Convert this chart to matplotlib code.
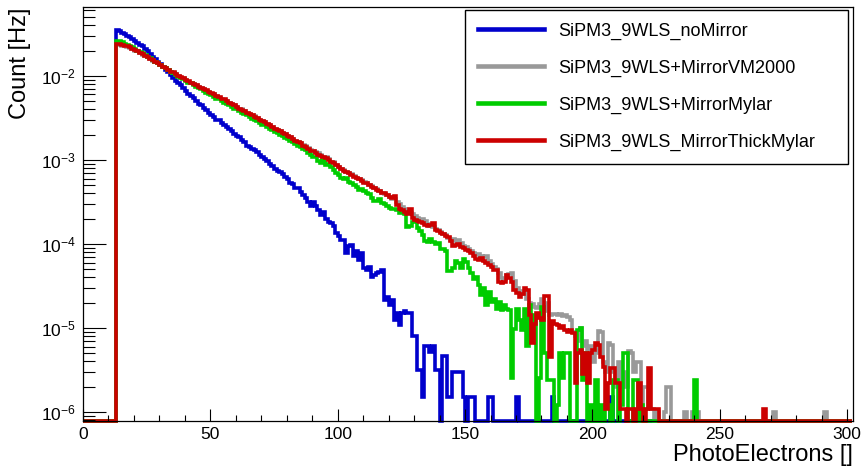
import numpy as np
import matplotlib
matplotlib.use("Agg")
import matplotlib.pyplot as plt
from matplotlib.ticker import MultipleLocator, LogLocator, NullFormatter, LogFormatterSciNotation
from matplotlib.lines import Line2D

plt.rcParams['font.family'] = ['Liberation Sans', 'DejaVu Sans']
plt.rcParams['mathtext.fontset'] = 'custom'
plt.rcParams['mathtext.rm'] = 'Liberation Sans'
plt.rcParams['mathtext.it'] = 'Liberation Sans:italic'
plt.rcParams['mathtext.default'] = 'regular'

# ---------------- data ----------------
# histogram: 1 PE wide bins from 0 to 302; values are log10(rate [Hz]),
# listed from bin 13 on; None = empty bin
n_bins = 302
first_bin = 13
x_label = "PhotoElectrons []"
y_label = "Count [Hz]"
series_names = ["SiPM3_9WLS_noMirror", "SiPM3_9WLS+MirrorVM2000",
                "SiPM3_9WLS+MirrorMylar", "SiPM3_9WLS_MirrorThickMylar"]
series_colors = ["#0000cc", "#999999", "#00cc00", "#cc0000"]

blue_log10 = [
    -1.45, -1.47, -1.49, -1.50, -1.52, -1.54, -1.56, -1.58, -1.61, -1.63,   # 13
    -1.65, -1.68, -1.71, -1.74, -1.77, -1.80, -1.83, -1.86, -1.90, -1.93,   # 23
    -1.96, -1.99, -2.02, -2.06, -2.09, -2.11, -2.15, -2.18, -2.21, -2.24,   # 33
    -2.26, -2.30, -2.33, -2.35, -2.38, -2.41, -2.44, -2.47, -2.49, -2.52,   # 43
    -2.53, -2.56, -2.59, -2.61, -2.63, -2.66, -2.69, -2.71, -2.73, -2.76,   # 53
    -2.79, -2.83, -2.85, -2.87, -2.88, -2.91, -2.94, -2.97, -2.99, -3.01,   # 63
    -3.05, -3.07, -3.11, -3.13, -3.15, -3.17, -3.20, -3.23, -3.27, -3.29,   # 73
    -3.33, -3.34, -3.38, -3.42, -3.45, -3.50, -3.55, -3.50, -3.55, -3.60,   # 83
    -3.66, -3.62, -3.70, -3.74, -3.75, -3.79, -3.87, -3.91, -3.95, -3.95,   # 93
    -4.11, -4.03, -4.01, -4.15, -4.09, -4.19, -4.11, -4.29, -4.31, -4.27,   # 103
    -4.39, -4.37, -4.35, -4.33, -4.31, -4.67, -4.63, -4.73, -4.67, -4.90,   # 113
    -4.82, -4.96, -4.82, -4.80, -4.82, -4.82, -5.10, -5.10, -5.50, -5.50,   # 123
    -5.82, -5.22, -5.22, -5.29, -5.22, -5.50, -5.50, None, -5.34, -5.34,    # 133
    -5.82, -5.82, -5.52, -5.52, -5.52, -5.52, -5.82, None, -5.82, -5.82,    # 143
    -5.82, None, None, None, None, None, -5.82, -5.82, None, None,          # 153
    None, None, None, None, None, None, None, -5.82, None, None,            # 163
    None, None, None, None, None, None, None, None, None, None,             # 173
    None, -5.82, None, None, None, None, None, None, None, None,            # 183
    None, None, None, None, None, None, None, None, None, None,             # 193
    None, None, None, None, -5.82,                                          # 203
]

gray_log10 = [
    -1.63, -1.63, -1.64, -1.65, -1.66, -1.67, -1.68, -1.70, -1.71, -1.73,   # 13
    -1.75, -1.76, -1.78, -1.80, -1.82, -1.84, -1.85, -1.87, -1.89, -1.91,   # 23
    -1.93, -1.95, -1.97, -1.98, -2.00, -2.02, -2.03, -2.05, -2.07, -2.08,   # 33
    -2.10, -2.11, -2.13, -2.15, -2.16, -2.18, -2.19, -2.21, -2.22, -2.24,   # 43
    -2.26, -2.27, -2.29, -2.30, -2.32, -2.34, -2.35, -2.37, -2.39, -2.40,   # 53
    -2.42, -2.44, -2.45, -2.47, -2.48, -2.50, -2.52, -2.54, -2.55, -2.57,   # 63
    -2.59, -2.61, -2.63, -2.64, -2.66, -2.68, -2.69, -2.71, -2.73, -2.75,   # 73
    -2.77, -2.79, -2.80, -2.82, -2.84, -2.86, -2.88, -2.89, -2.91, -2.92,   # 83
    -2.94, -2.96, -2.97, -2.99, -3.02, -3.03, -3.06, -3.08, -3.11, -3.12,   # 93
    -3.14, -3.16, -3.17, -3.19, -3.21, -3.23, -3.24, -3.26, -3.28, -3.30,   # 103
    -3.31, -3.33, -3.35, -3.37, -3.39, -3.41, -3.42, -3.44, -3.46, -3.47,   # 113
    -3.50, -3.53, -3.56, -3.58, -3.61, -3.63, -3.65, -3.67, -3.69, -3.72,   # 123
    -3.70, -3.73, -3.76, -3.79, -3.80, -3.82, -3.84, -3.86, -3.88, -3.90,   # 133
    -3.93, -3.95, -3.94, -3.97, -3.95, -3.99, -4.02, -4.04, -4.06, -4.09,   # 143
    -4.11, -4.13, -4.12, -4.14, -4.16, -4.15, -4.20, -4.24, -4.27, -4.30,   # 153
    -4.35, -4.40, -4.42, -4.37, -4.36, -4.35, -4.44, -4.52, -4.56, -4.60,   # 163
    -4.58, -4.66, -4.70, -4.72, -4.75, -4.76, -4.72, -4.66, -4.80, -4.70,   # 173
    -4.85, -4.84, -4.83, -4.85, -4.83, -4.86, -4.85, -4.87, -4.90, -5.05,   # 183
    -5.10, -5.15, -5.00, -5.22, -5.15, -5.30, -5.22, -5.40, -5.30, -5.04,   # 193
    -5.05, -5.40, -5.52, -5.18, -5.20, -5.52, -5.70, -5.40, -5.70, -5.52,   # 203
    -5.70, -5.27, -5.30, -5.52, -5.40, -5.40, -6.00, -5.70, -5.70, -5.96,   # 213
    -5.96, None, -6.00, None, None, -6.00, -5.70, -5.70, None, None,        # 223
    None, None, None, -6.00, None, None, -6.00, -6.00, -6.00, None,         # 233
    None, None, None, None, None, None, None, None, None, None,             # 243
    None, None, None, None, None, None, None, None, None, None,             # 253
    None, None, None, None, None, None, None, None, -6.00, None,            # 263
    None, None, None, None, None, None, None, None, None, None,             # 273
    None, None, None, None, None, None, None, None, -6.00,                  # 283
]

green_log10 = [
    -1.58, -1.59, -1.60, -1.62, -1.63, -1.65, -1.66, -1.68, -1.70, -1.72,   # 13
    -1.73, -1.75, -1.77, -1.79, -1.81, -1.83, -1.85, -1.87, -1.89, -1.91,   # 23
    -1.93, -1.95, -1.97, -1.99, -2.01, -2.02, -2.04, -2.06, -2.08, -2.09,   # 33
    -2.11, -2.13, -2.15, -2.16, -2.18, -2.20, -2.21, -2.23, -2.25, -2.27,   # 43
    -2.28, -2.30, -2.32, -2.34, -2.35, -2.37, -2.39, -2.40, -2.42, -2.44,   # 53
    -2.45, -2.47, -2.49, -2.51, -2.52, -2.54, -2.56, -2.58, -2.59, -2.61,   # 63
    -2.63, -2.65, -2.67, -2.68, -2.70, -2.72, -2.74, -2.75, -2.77, -2.79,   # 73
    -2.81, -2.83, -2.85, -2.87, -2.88, -2.92, -2.94, -2.96, -2.97, -3.01,   # 83
    -3.04, -3.00, -3.06, -3.05, -3.09, -3.12, -3.16, -3.18, -3.21, -3.23,   # 93
    -3.22, -3.26, -3.28, -3.30, -3.32, -3.36, -3.35, -3.37, -3.40, -3.41,   # 103
    -3.45, -3.49, -3.49, -3.47, -3.51, -3.53, -3.55, -3.57, -3.58, -3.59,   # 113
    -3.60, -3.63, -3.63, -3.64, -3.80, -3.79, -3.74, -3.73, -3.81, -3.85,   # 123
    -3.90, -3.96, -3.98, -3.94, -3.98, -4.00, -3.99, -4.06, -4.06, -4.08,   # 133
    -4.32, -4.32, -4.29, -4.20, -4.23, -4.29, -4.18, -4.22, -4.29, -4.35,   # 143
    -4.42, -4.39, -4.49, -4.61, -4.53, -4.73, -4.57, -4.69, -4.65, -4.77,   # 153
    -4.69, -4.79, -4.73, -4.77, -4.79, -5.60, -5.01, -4.77, -4.90, -5.03,   # 163
    -4.77, -5.22, -4.73, -5.00, -4.85, None, -5.60, -4.75, -5.30, -5.62,    # 173
    -5.62, -5.62, None, -5.92, -5.30, -5.60, -5.30, -5.30, None, None,      # 183
    None, -5.02, -5.00, -5.62, -5.30, None, -5.92, None, -5.62, None,       # 193
    -5.92, None, -5.92, -5.92, None, -5.62, -5.62, None, -5.92, -5.30,      # 203
    -5.30, None, None, -5.62, -5.62, None, -5.92, None, None, None,         # 213
    None, None, None, None, None, None, None, None, None, None,             # 223
    None, None, None, None, None, None, None, -5.62,                        # 233
]

red_log10 = [
    -1.62, -1.62, -1.63, -1.64, -1.65, -1.66, -1.68, -1.69, -1.71, -1.73,   # 13
    -1.74, -1.76, -1.78, -1.80, -1.81, -1.83, -1.85, -1.87, -1.89, -1.91,   # 23
    -1.93, -1.95, -1.96, -1.98, -2.00, -2.01, -2.03, -2.05, -2.06, -2.08,   # 33
    -2.10, -2.11, -2.13, -2.14, -2.16, -2.17, -2.19, -2.20, -2.22, -2.24,   # 43
    -2.25, -2.27, -2.28, -2.30, -2.32, -2.34, -2.35, -2.37, -2.39, -2.41,   # 53
    -2.42, -2.44, -2.45, -2.47, -2.49, -2.50, -2.52, -2.54, -2.55, -2.57,   # 63
    -2.59, -2.61, -2.63, -2.64, -2.66, -2.68, -2.69, -2.71, -2.73, -2.75,   # 73
    -2.77, -2.79, -2.80, -2.83, -2.85, -2.87, -2.89, -2.90, -2.92, -2.94,   # 83
    -2.95, -2.97, -2.98, -3.00, -3.02, -3.04, -3.06, -3.09, -3.11, -3.13,   # 93
    -3.14, -3.16, -3.18, -3.20, -3.21, -3.23, -3.25, -3.27, -3.28, -3.30,   # 103
    -3.32, -3.34, -3.36, -3.37, -3.39, -3.40, -3.42, -3.44, -3.45, -3.43,   # 113
    -3.54, -3.58, -3.60, -3.62, -3.64, -3.59, -3.69, -3.71, -3.73, -3.74,   # 123
    -3.75, -3.77, -3.79, -3.78, -3.75, -3.83, -3.85, -3.87, -3.88, -3.91,   # 133
    -3.92, -3.97, -4.02, -4.01, -4.00, -4.04, -4.05, -4.07, -4.08, -4.11,   # 143
    -4.14, -4.18, -4.19, -4.17, -4.20, -4.23, -4.25, -4.28, -4.31, -4.31,   # 153
    -4.45, -4.47, -4.45, -4.37, -4.40, -4.45, -4.55, -4.58, -4.63, -4.60,   # 163
    -4.52, -4.55, -4.85, -5.18, -4.95, -4.82, -4.88, -4.90, -4.62, -4.62,   # 173
    -5.35, -4.92, -4.95, -4.97, -5.00, -4.98, -5.02, -5.05, -5.03, -5.06,   # 183
    -5.66, -5.30, -5.26, -5.55, -5.30, -5.66, -5.30, -5.26, -5.18, -5.20,   # 193
    -5.35, -5.46, -5.96, -5.66, -5.48, -5.48, -5.66, -5.66, -5.96, -5.96,   # 203
    None, -5.96, -5.96, None, -5.96, -5.66, -5.96, None, -5.96, -5.48,      # 213
    -5.96, -5.96, -5.96, None, None, None, None, None, None, None,          # 223
    None, None, None, None, None, None, None, None, None, None,             # 233
    None, None, None, None, None, None, None, None, None, None,             # 243
    None, None, None, None, None, None, None, None, None, None,             # 253
    None, None, None, None, -5.96,                                          # 263
]

series_log10 = [blue_log10, gray_log10, green_log10, red_log10]

y_min, y_max = 7.8e-7, 0.066
x_min, x_max = 0, 302.3

# ---------------- figure ----------------
W, H = 862, 469
fig = plt.figure(figsize=(W / 100, H / 100), dpi=100)
ax = fig.add_axes([83 / W, (H - 421) / H, 770 / W, 414 / H])

edges = np.arange(0, n_bins + 1)
handles = []
for logs, name, col in zip(series_log10, series_names, series_colors):
    vals = np.full(n_bins, y_min)
    for i, v in enumerate(logs):
        if v is not None:
            vals[first_bin + i] = 10.0 ** v
    ax.stairs(vals, edges, baseline=None, color=col, linewidth=2.6,
              joinstyle='miter', clip_on=False)
    handles.append(Line2D([], [], color=col, linewidth=3.3, label=name))

ax.set_yscale('log')
ax.set_xlim(x_min, x_max)
ax.set_ylim(y_min, y_max)

ax.xaxis.set_major_locator(MultipleLocator(50))
ax.xaxis.set_minor_locator(MultipleLocator(10))
ax.yaxis.set_major_locator(LogLocator(base=10, numticks=20))
ax.yaxis.set_minor_locator(LogLocator(base=10, subs=np.arange(2, 10), numticks=100))
ax.yaxis.set_minor_formatter(NullFormatter())
ax.yaxis.set_major_formatter(LogFormatterSciNotation())

ax.tick_params(axis='x', which='major', direction='in', length=9, width=0.8,
               labelsize=12.5, pad=4, top=False)
ax.tick_params(axis='x', which='minor', direction='in', length=4.5, width=0.8, top=False)
ax.tick_params(axis='y', which='major', direction='in', length=16.5, width=0.8,
               labelsize=12.5, pad=5, right=False)
ax.tick_params(axis='y', which='minor', direction='in', length=8.3, width=0.8, right=False)
for s in ax.spines.values():
    s.set_linewidth(0.9)
    s.set_color('black')

fig.text(853 / W, 1 - 455 / H, x_label, ha='right', va='center', fontsize=17)
fig.text(20 / W, 1 - 8 / H, y_label, ha='center', va='top', rotation=90, fontsize=17)

leg = ax.legend(handles=handles, loc='upper left',
                bbox_to_anchor=((465 - 83) / 770, 0.0, (848 - 465) / 770, (421 - 10) / 414),
                mode='expand', borderaxespad=0, fontsize=13, frameon=True,
                fancybox=False, shadow=False, framealpha=1, edgecolor='black',
                handlelength=3.7, handletextpad=0.75, borderpad=0.7, labelspacing=1.1)
leg.get_frame().set_linewidth(1.0)
leg.set_zorder(10)

fig.savefig("out.png", dpi=100)
